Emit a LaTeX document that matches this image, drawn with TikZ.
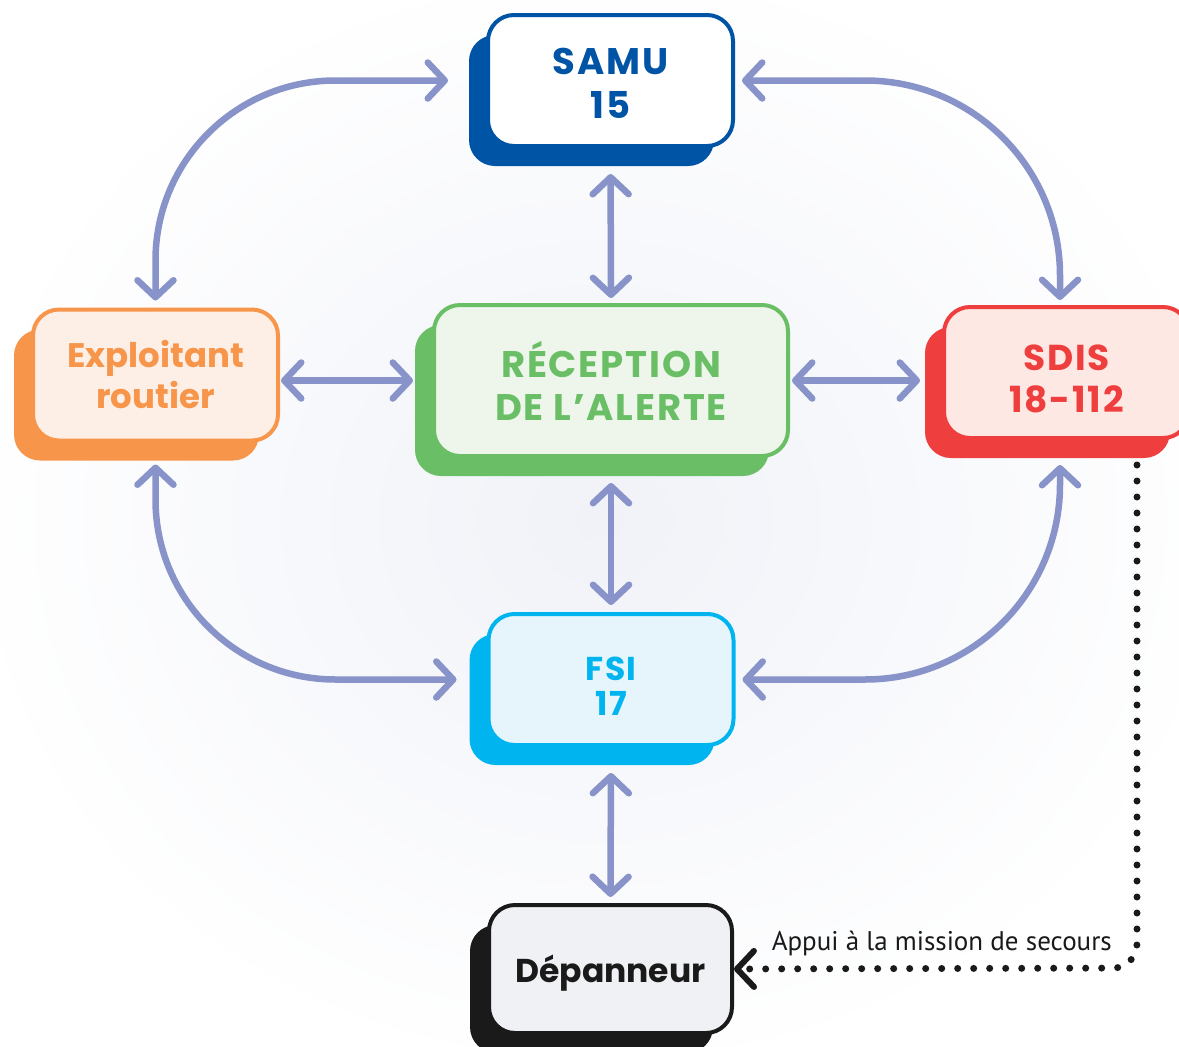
\documentclass[tikz,border=0pt]{standalone}
\usepackage{fontspec}
\setmainfont{Poppins}
\newfontfamily\capsfont{Poppins}[LetterSpace=5]
\newfontfamily\lblfont{PT Sans}
\usetikzlibrary{arrows.meta,shadows,calc}
\definecolor{arr}{HTML}{8793C9}
\definecolor{samuc}{HTML}{0054A6}
\definecolor{orc}{HTML}{F7964A}
\definecolor{orf}{HTML}{FDEFE6}
\definecolor{grc}{HTML}{6ABF66}
\definecolor{grf}{HTML}{EEF6EC}
\definecolor{rdc}{HTML}{EF3E3E}
\definecolor{rdf}{HTML}{FDE8E3}
\definecolor{cyc}{HTML}{00B5EF}
\definecolor{cyf}{HTML}{E6F5FC}
\definecolor{blk}{HTML}{1A1A1A}
\definecolor{dpf}{HTML}{F0F1F4}
\definecolor{bgc}{HTML}{F0F2F8}
\newcommand{\shifttext}[2]{\raisebox{#1}[\height][\depth]{\begin{tabular}{@{}c@{}}#2\end{tabular}}}
\tikzset{
  card/.style 2 args={draw=#1, fill=#2, text=#1, line width=4pt,
    rounded corners=26pt, minimum width=245pt, minimum height=131pt,
    align=center, inner sep=0pt,
    font=\capsfont\bfseries\fontsize{37}{44}\selectfont,
    drop shadow={shadow xshift=-19pt, shadow yshift=-20pt, fill=#1, opacity=1}},
  link/.style={draw=arr, line width=6.5pt, {Straight Barb[length=17pt,width=36pt,round]}-{Straight Barb[length=17pt,width=36pt,round]}},
  dotline/.style={draw=blk, line width=7pt, line cap=round, dash pattern=on 0pt off 16pt, -{Straight Barb[length=17pt,width=36pt,round,line width=6pt]}}
}
\begin{document}
\begin{tikzpicture}[x=1pt,y=-1pt]
\useasboundingbox (0,0) rectangle (1179,1047);
\fill[white] (0,0) rectangle (1179,1047);
\shade[inner color=bgc, outer color=white] (600,520) ellipse [x radius=640, y radius=560];

\node[card={samuc}{white}] (samu) at (610.5,80.5) {\shifttext{-7pt}{SAMU\\15}};
\node[card={orc}{orf}, font=\bfseries\fontsize{34}{41}\selectfont] (exp) at (155.5,375) {Exploitant\\routier};
\node[card={grc}{grf}, minimum width=354pt, minimum height=151pt, font=\capsfont\bfseries\fontsize{37}{43}\selectfont] (rec) at (611,380.5) {RÉCEPTION\\DE L’ALERTE};
\node[card={rdc}{rdf}, font=\capsfont\bfseries\fontsize{36}{42}\selectfont] (sdis) at (1066.5,372.5) {\shifttext{-11pt}{SDIS\\18-112}};
\node[card={cyc}{cyf}, font=\capsfont\bfseries\fontsize{33}{35}\selectfont] (fsi) at (611,679.5) {\shifttext{-11pt}{FSI\\17}};
\node[card={blk}{dpf}, text=blk, minimum width=243pt, minimum height=128pt, font=\bfseries\fontsize{33}{36}\selectfont] (dep) at (610.5,969) {\shifttext{-5pt}{Dépanneur}};

% straight links
\draw[link, shorten <=26pt, shorten >=5pt] (samu.south) -- (rec.north);
\draw[link, shorten <=25pt, shorten >=7pt] (rec.south) -- (fsi.north);
\draw[link, shorten <=26pt, shorten >=6pt] (fsi.south) -- (dep.north);
\draw[link, shorten <=1pt, shorten >=19pt] (exp.east |- rec.west) -- (rec.west);
\draw[link, shorten <=2pt, shorten >=22pt] (rec.east) -- (sdis.west |- rec.east);

% curved links
\draw[link, rounded corners=180pt, shorten <=38pt, shorten >=7pt] (samu.west) -| (exp.north);
\draw[link, rounded corners=195pt, shorten <=7pt, shorten >=5pt] (samu.east) -| ([xshift=-6.5pt]sdis.north);
\draw[link, rounded corners=180pt, shorten <=22pt, shorten >=30pt] (exp.south) |- (fsi.west);
\draw[link, rounded corners=195pt, shorten <=25pt, shorten >=7pt] ([xshift=-6.5pt]sdis.south) |- (fsi.east);

% dotted support link
\coordinate (dc) at (1137,968);
\draw[dotline, rounded corners=24pt] ([xshift=70.5pt,yshift=-25pt]sdis.south) -- (dc) -- (dep.east);
\node[anchor=base east, text=blk, font=\lblfont\fontsize{27}{30}\selectfont, inner sep=0pt] (lbl) at (1112,950) {Appui à la mission de secours};
\end{tikzpicture}
\end{document}
